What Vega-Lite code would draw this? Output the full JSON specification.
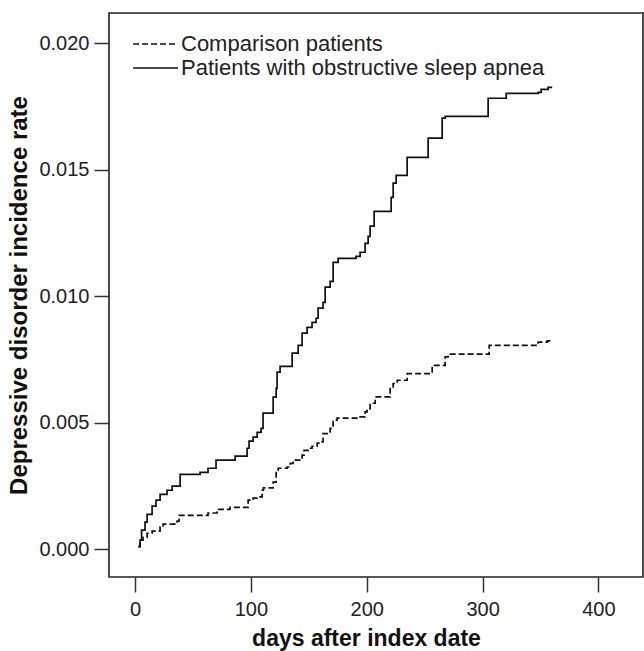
{
  "$schema": "https://vega.github.io/schema/vega-lite/v6.json",
  "width": 534,
  "height": 564,
  "autosize": {"type": "none"},
  "padding": {"left": 109, "top": 13, "right": 1, "bottom": 74},
  "background": "white",
  "config": {
    "font": "Liberation Sans",
    "view": {"stroke": "#222", "strokeWidth": 1.6},
    "axis": {
      "grid": false,
      "domain": false,
      "tickColor": "#333",
      "tickWidth": 1.5,
      "tickSize": 15,
      "labelFont": "Liberation Sans",
      "labelFontSize": 20,
      "labelColor": "#222",
      "titleFont": "Liberation Sans",
      "titleFontSize": 23,
      "titleFontWeight": "bold",
      "titleColor": "#111"
    },
    "legend": {
      "labelFont": "Liberation Sans",
      "labelFontSize": 22,
      "labelColor": "#222"
    }
  },
  "data": {
    "values": [
      {"group": "Patients with obstructive sleep apnea", "day": 3.0, "rate": 0.00012},
      {"group": "Patients with obstructive sleep apnea", "day": 4.3, "rate": 0.00036},
      {"group": "Patients with obstructive sleep apnea", "day": 5.6, "rate": 0.00075},
      {"group": "Patients with obstructive sleep apnea", "day": 8.6, "rate": 0.00107},
      {"group": "Patients with obstructive sleep apnea", "day": 10.4, "rate": 0.00138},
      {"group": "Patients with obstructive sleep apnea", "day": 14.7, "rate": 0.0017},
      {"group": "Patients with obstructive sleep apnea", "day": 18.1, "rate": 0.00194},
      {"group": "Patients with obstructive sleep apnea", "day": 21.6, "rate": 0.00217},
      {"group": "Patients with obstructive sleep apnea", "day": 27.6, "rate": 0.00233},
      {"group": "Patients with obstructive sleep apnea", "day": 32.0, "rate": 0.00249},
      {"group": "Patients with obstructive sleep apnea", "day": 38.9, "rate": 0.00296},
      {"group": "Patients with obstructive sleep apnea", "day": 56.1, "rate": 0.00304},
      {"group": "Patients with obstructive sleep apnea", "day": 63.0, "rate": 0.0032},
      {"group": "Patients with obstructive sleep apnea", "day": 69.9, "rate": 0.00352},
      {"group": "Patients with obstructive sleep apnea", "day": 86.4, "rate": 0.00368},
      {"group": "Patients with obstructive sleep apnea", "day": 96.7, "rate": 0.00399},
      {"group": "Patients with obstructive sleep apnea", "day": 98.4, "rate": 0.00427},
      {"group": "Patients with obstructive sleep apnea", "day": 101.9, "rate": 0.00443},
      {"group": "Patients with obstructive sleep apnea", "day": 105.4, "rate": 0.00462},
      {"group": "Patients with obstructive sleep apnea", "day": 108.8, "rate": 0.00478},
      {"group": "Patients with obstructive sleep apnea", "day": 110.5, "rate": 0.00538},
      {"group": "Patients with obstructive sleep apnea", "day": 119.2, "rate": 0.00601},
      {"group": "Patients with obstructive sleep apnea", "day": 121.8, "rate": 0.00636},
      {"group": "Patients with obstructive sleep apnea", "day": 122.6, "rate": 0.007},
      {"group": "Patients with obstructive sleep apnea", "day": 125.2, "rate": 0.00723},
      {"group": "Patients with obstructive sleep apnea", "day": 135.6, "rate": 0.00775},
      {"group": "Patients with obstructive sleep apnea", "day": 140.8, "rate": 0.00806},
      {"group": "Patients with obstructive sleep apnea", "day": 144.2, "rate": 0.00854},
      {"group": "Patients with obstructive sleep apnea", "day": 148.5, "rate": 0.00877},
      {"group": "Patients with obstructive sleep apnea", "day": 152.8, "rate": 0.00897},
      {"group": "Patients with obstructive sleep apnea", "day": 156.3, "rate": 0.00913},
      {"group": "Patients with obstructive sleep apnea", "day": 158.0, "rate": 0.00953},
      {"group": "Patients with obstructive sleep apnea", "day": 162.3, "rate": 0.00976},
      {"group": "Patients with obstructive sleep apnea", "day": 164.1, "rate": 0.01036},
      {"group": "Patients with obstructive sleep apnea", "day": 168.4, "rate": 0.01059},
      {"group": "Patients with obstructive sleep apnea", "day": 171.0, "rate": 0.01134},
      {"group": "Patients with obstructive sleep apnea", "day": 175.3, "rate": 0.0115},
      {"group": "Patients with obstructive sleep apnea", "day": 190.8, "rate": 0.01158},
      {"group": "Patients with obstructive sleep apnea", "day": 194.3, "rate": 0.01174},
      {"group": "Patients with obstructive sleep apnea", "day": 198.6, "rate": 0.01209},
      {"group": "Patients with obstructive sleep apnea", "day": 201.2, "rate": 0.01237},
      {"group": "Patients with obstructive sleep apnea", "day": 202.9, "rate": 0.01277},
      {"group": "Patients with obstructive sleep apnea", "day": 206.4, "rate": 0.01336},
      {"group": "Patients with obstructive sleep apnea", "day": 221.1, "rate": 0.01391},
      {"group": "Patients with obstructive sleep apnea", "day": 222.8, "rate": 0.01447},
      {"group": "Patients with obstructive sleep apnea", "day": 225.4, "rate": 0.01478},
      {"group": "Patients with obstructive sleep apnea", "day": 234.9, "rate": 0.01549},
      {"group": "Patients with obstructive sleep apnea", "day": 253.0, "rate": 0.01625},
      {"group": "Patients with obstructive sleep apnea", "day": 265.1, "rate": 0.01704},
      {"group": "Patients with obstructive sleep apnea", "day": 267.7, "rate": 0.01711},
      {"group": "Patients with obstructive sleep apnea", "day": 304.8, "rate": 0.01783},
      {"group": "Patients with obstructive sleep apnea", "day": 320.4, "rate": 0.01802},
      {"group": "Patients with obstructive sleep apnea", "day": 348.0, "rate": 0.01806},
      {"group": "Patients with obstructive sleep apnea", "day": 350.6, "rate": 0.01818},
      {"group": "Patients with obstructive sleep apnea", "day": 356.6, "rate": 0.01826},
      {"group": "Patients with obstructive sleep apnea", "day": 360.1, "rate": 0.01826},
      {"group": "Comparison patients", "day": 2.85, "rate": 0.00009},
      {"group": "Comparison patients", "day": 4.3, "rate": 0.00036},
      {"group": "Comparison patients", "day": 6.9, "rate": 0.00047},
      {"group": "Comparison patients", "day": 10.4, "rate": 0.00063},
      {"group": "Comparison patients", "day": 14.7, "rate": 0.00071},
      {"group": "Comparison patients", "day": 21.6, "rate": 0.00087},
      {"group": "Comparison patients", "day": 24.2, "rate": 0.00099},
      {"group": "Comparison patients", "day": 36.3, "rate": 0.00111},
      {"group": "Comparison patients", "day": 38.0, "rate": 0.00134},
      {"group": "Comparison patients", "day": 63.0, "rate": 0.00143},
      {"group": "Comparison patients", "day": 70.8, "rate": 0.00157},
      {"group": "Comparison patients", "day": 82.0, "rate": 0.00165},
      {"group": "Comparison patients", "day": 97.6, "rate": 0.00194},
      {"group": "Comparison patients", "day": 101.9, "rate": 0.00202},
      {"group": "Comparison patients", "day": 105.4, "rate": 0.00207},
      {"group": "Comparison patients", "day": 109.7, "rate": 0.00233},
      {"group": "Comparison patients", "day": 110.8, "rate": 0.00242},
      {"group": "Comparison patients", "day": 119.2, "rate": 0.00265},
      {"group": "Comparison patients", "day": 121.8, "rate": 0.00312},
      {"group": "Comparison patients", "day": 123.5, "rate": 0.0032},
      {"group": "Comparison patients", "day": 131.3, "rate": 0.00325},
      {"group": "Comparison patients", "day": 133.9, "rate": 0.00339},
      {"group": "Comparison patients", "day": 136.4, "rate": 0.00352},
      {"group": "Comparison patients", "day": 144.2, "rate": 0.00372},
      {"group": "Comparison patients", "day": 145.9, "rate": 0.00391},
      {"group": "Comparison patients", "day": 149.4, "rate": 0.00399},
      {"group": "Comparison patients", "day": 152.8, "rate": 0.00407},
      {"group": "Comparison patients", "day": 157.2, "rate": 0.00419},
      {"group": "Comparison patients", "day": 159.8, "rate": 0.00424},
      {"group": "Comparison patients", "day": 162.3, "rate": 0.00457},
      {"group": "Comparison patients", "day": 165.8, "rate": 0.00464},
      {"group": "Comparison patients", "day": 168.4, "rate": 0.00478},
      {"group": "Comparison patients", "day": 171.0, "rate": 0.0051},
      {"group": "Comparison patients", "day": 174.4, "rate": 0.00518},
      {"group": "Comparison patients", "day": 194.3, "rate": 0.00523},
      {"group": "Comparison patients", "day": 198.6, "rate": 0.00543},
      {"group": "Comparison patients", "day": 200.3, "rate": 0.00549},
      {"group": "Comparison patients", "day": 202.9, "rate": 0.00577},
      {"group": "Comparison patients", "day": 207.3, "rate": 0.00602},
      {"group": "Comparison patients", "day": 220.2, "rate": 0.00635},
      {"group": "Comparison patients", "day": 222.8, "rate": 0.00655},
      {"group": "Comparison patients", "day": 226.3, "rate": 0.00668},
      {"group": "Comparison patients", "day": 234.9, "rate": 0.00694},
      {"group": "Comparison patients", "day": 256.5, "rate": 0.00727},
      {"group": "Comparison patients", "day": 267.7, "rate": 0.0076},
      {"group": "Comparison patients", "day": 270.3, "rate": 0.00771},
      {"group": "Comparison patients", "day": 305.7, "rate": 0.00806},
      {"group": "Comparison patients", "day": 348.0, "rate": 0.00819},
      {"group": "Comparison patients", "day": 355.8, "rate": 0.00824},
      {"group": "Comparison patients", "day": 359.2, "rate": 0.00826}
    ]
  },
  "mark": {"type": "line", "interpolate": "step-after", "color": "#111", "strokeWidth": 1.7},
  "encoding": {
    "x": {
      "field": "day",
      "type": "quantitative",
      "scale": {"domain": [-22.5, 438.5], "nice": false, "zero": false},
      "axis": {"values": [0, 100, 200, 300, 400], "title": "days after index date", "labelPadding": 7, "titlePadding": 8, "titleX": 257, "titleAlign": "center"}
    },
    "y": {
      "field": "rate",
      "type": "quantitative",
      "scale": {"domain": [-0.0011, 0.0212], "nice": false, "zero": false},
      "axis": {"values": [0, 0.005, 0.01, 0.015, 0.02], "format": ".3f", "title": "Depressive disorder incidence rate", "titleFontSize": 24, "labelPadding": 5, "titlePadding": 7}
    },
    "strokeDash": {
      "field": "group",
      "type": "nominal",
      "scale": {
        "domain": ["Comparison patients", "Patients with obstructive sleep apnea"],
        "range": [[6, 3], [1, 0]]
      },
      "legend": {
        "title": null,
        "orient": "none",
        "legendX": 13,
        "legendY": 20,
        "padding": 0,
        "symbolType": "M0,0H8",
        "symbolSize": 126.6,
        "symbolStrokeWidth": 1.5,
        "symbolStrokeColor": "#111",
        "symbolFillColor": "transparent",
        "labelOffset": 37,
        "labelLimit": 0,
        "rowPadding": 2
      }
    }
  }
}
